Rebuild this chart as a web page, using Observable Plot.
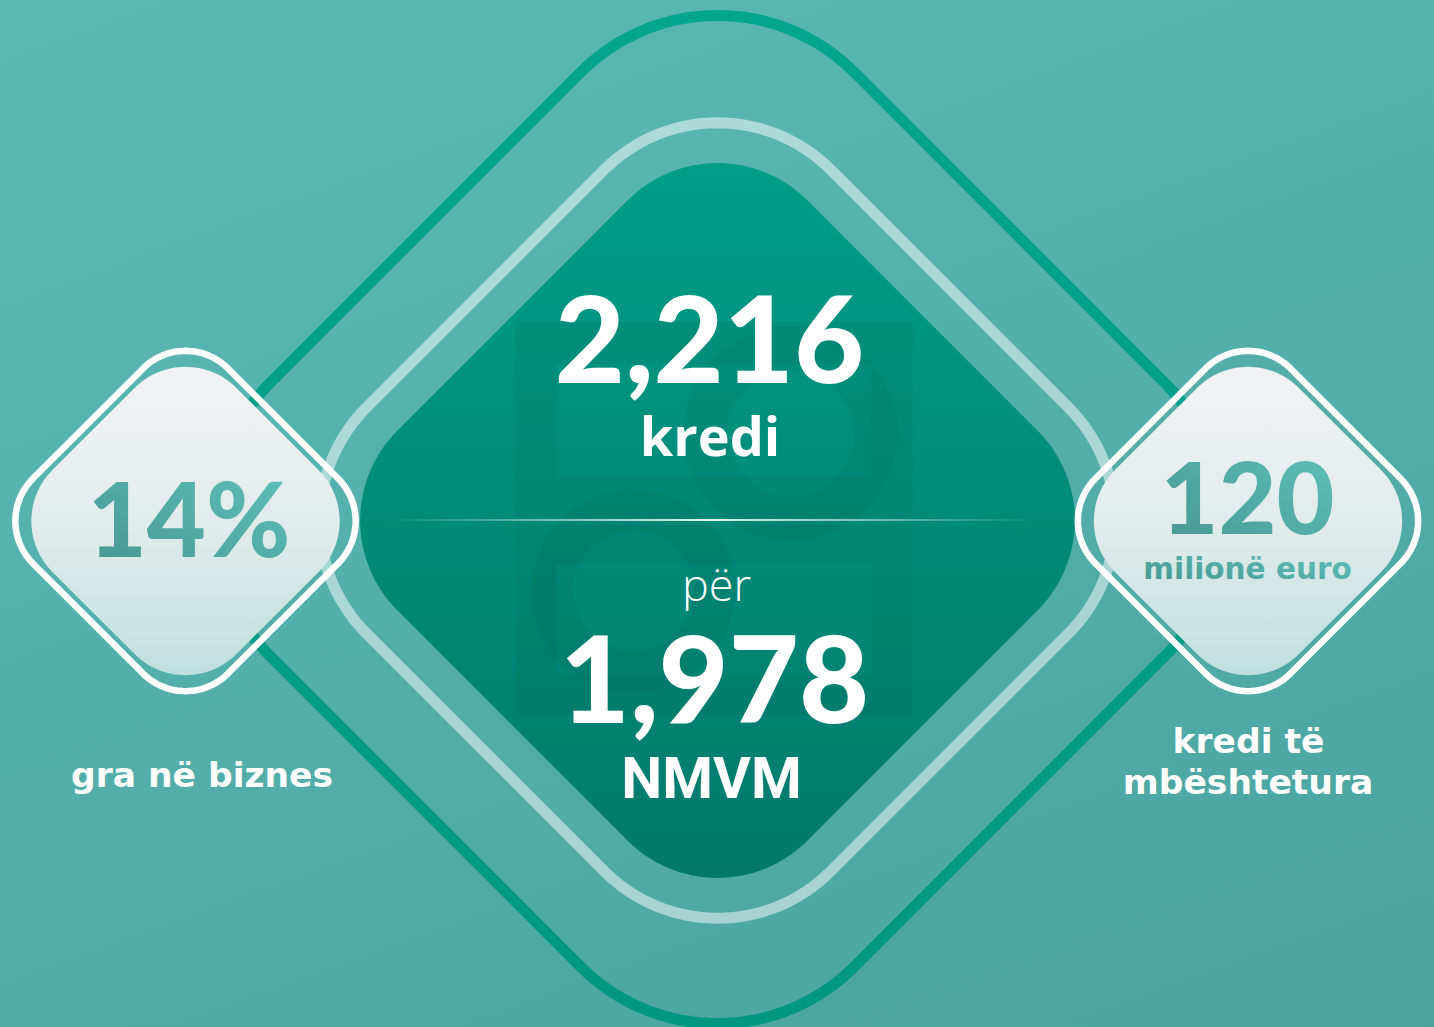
<!DOCTYPE html>
<html><head><meta charset="utf-8">
<script src="https://cdn.jsdelivr.net/npm/d3@7"></script>
<script src="https://cdn.jsdelivr.net/npm/@observablehq/plot@0.6"></script>
<style>
html,body{margin:0;padding:0;background:#52b0ab;overflow:hidden}
#chart svg{display:block}
</style></head><body><div id="chart"></div>
<script>
// ---- content ----
const headlineValues = ["2,216", "1,978"];
const headlineUnits = ["kredi", "NMVM"];
const connectorWord = ["për"];
const sideValues = ["14%", "120"];
const sideUnits = ["milionë euro"];
const sideCaptions = ["gra në biznes", "kredi të", "mbështetura"];

// ---- layout ----
const W = 1434, H = 1027;
const NUM = "Lato, sans-serif";
const WIDE = "'DejaVu Sans', Verdana, sans-serif";

function roundedDiamond(cx, cy, D, r, n = 32) {
  const pts = [];
  const k = D - r * Math.SQRT2;
  for (let q = 0; q < 4; q++) {
    const a0 = q * Math.PI / 2;
    const ax = cx + k * Math.cos(a0), ay = cy + k * Math.sin(a0);
    for (let i = 0; i <= n; i++) {
      const a = a0 - Math.PI / 4 + (i / n) * Math.PI / 2;
      pts.push({x: ax + r * Math.cos(a), y: ay + r * Math.sin(a)});
    }
  }
  return pts;
}

const outerRing = roundedDiamond(717, 519, 584, 193);
const middleRing = roundedDiamond(717, 520, 464, 160);
const innerFill = roundedDiamond(717, 520, 410, 127);
const leftRing = roundedDiamond(185, 520.5, 195, 60);
const leftFill = roundedDiamond(185, 520.5, 184, 72);
const rightRing = roundedDiamond(1247.5, 520.5, 195, 60);
const rightFill = roundedDiamond(1247.5, 520.5, 184, 72);

const closed = {x: "x", y: "y", curve: "linear-closed"};
const one = [0];
const at = (x, y) => ({x: () => x, y: () => y});

const svg = Plot.plot({
  width: W, height: H,
  margin: 0,
  x: {domain: [0, W], range: [0, W], axis: null},
  y: {domain: [0, H], range: [0, H], axis: null},
  style: {background: "linear-gradient(160deg, #5bbab5 0%, #53aeaa 55%, #49a29e 100%)", fontFamily: NUM},
  marks: [
    Plot.line(outerRing, {...closed, stroke: "url(#outerGrad)", strokeWidth: 11}),
    Plot.line(middleRing, {...closed, stroke: "#ffffff", strokeOpacity: 0.5, strokeWidth: 11}),
    Plot.line(innerFill, {...closed, fill: "url(#innerGrad)", stroke: "none"}),
    // faint watermark logo
    Plot.rect(one, {x1: () => 536, x2: () => 892, y1: () => 343, y2: () => 497, fill: "none", stroke: "#00463c", strokeOpacity: 0.07, strokeWidth: 42}),
    Plot.rect(one, {x1: () => 536, x2: () => 892, y1: () => 545, y2: () => 695, fill: "none", stroke: "#00463c", strokeOpacity: 0.07, strokeWidth: 40}),
    Plot.dot(one, {...at(790, 433), r: 85, fill: "none", stroke: "#00463c", strokeOpacity: 0.07, strokeWidth: 44}),
    Plot.dot(one, {...at(633, 590), r: 81, fill: "none", stroke: "#00463c", strokeOpacity: 0.07, strokeWidth: 42}),
    // divider
    Plot.rect(one, {x1: () => 385, x2: () => 1035, y1: () => 519, y2: () => 521, fill: "url(#lineGrad)"}),
    // side diamonds
    Plot.line(leftRing, {...closed, stroke: "#ffffff", strokeWidth: 6.5, fill: "none"}),
    Plot.line(leftFill, {...closed, fill: "url(#sideGrad)", stroke: "none"}),
    Plot.line(rightRing, {...closed, stroke: "#ffffff", strokeWidth: 6.5, fill: "none"}),
    Plot.line(rightFill, {...closed, fill: "url(#sideGrad)", stroke: "none"}),
    // central texts
    Plot.text([headlineValues[0]], {...at(709, 382), text: d => d, fontSize: 121, fontWeight: 900, fill: "white", lineAnchor: "bottom"}),
    Plot.text([headlineUnits[0]], {...at(709.5, 455), text: d => d, fontSize: 54, fontWeight: 700, fontFamily: "'Open Sans', sans-serif", fill: "white", lineAnchor: "bottom"}),
    Plot.text(connectorWord, {...at(716, 600), text: d => d, fontSize: 45, fontWeight: 300, fontFamily: "'Open Sans', sans-serif", fill: "white", lineAnchor: "bottom", ariaLabel: "connector"}),
    Plot.text([headlineValues[1]], {...at(714, 722), text: d => d, fontSize: 121, fontWeight: 900, fill: "white", lineAnchor: "bottom"}),
    Plot.text([headlineUnits[1]], {...at(711, 797), text: d => d, fontSize: 58, fontWeight: 700, fontFamily: "Roboto, sans-serif", fill: "white", lineAnchor: "bottom"}),
    // side texts
    Plot.text([sideValues[0]], {...at(188.5, 556), text: d => d, fontSize: 102, fontWeight: 900, fill: "url(#numGrad)", lineAnchor: "bottom"}),
    Plot.text([sideValues[1]], {...at(1247, 533), text: d => d, fontSize: 100, fontWeight: 900, fill: "url(#numGrad)", lineAnchor: "bottom"}),
    Plot.text(sideUnits, {...at(1247, 578), text: d => d, fontSize: 29.5, fontWeight: 700, fontFamily: WIDE, fill: "url(#numGrad)", lineAnchor: "bottom"}),
    Plot.text([sideCaptions[0]], {...at(201.5, 786), text: d => d, fontSize: 34.5, fontWeight: 700, fontFamily: WIDE, fill: "white", lineAnchor: "bottom"}),
    Plot.text([sideCaptions[1]], {...at(1248, 752), text: d => d, fontSize: 34.5, fontWeight: 700, fontFamily: WIDE, fill: "white", lineAnchor: "bottom"}),
    Plot.text([sideCaptions[2]], {...at(1247.5, 793), text: d => d, fontSize: 34.5, fontWeight: 700, fontFamily: WIDE, fill: "white", lineAnchor: "bottom"})
  ]
});

svg.insertAdjacentHTML("afterbegin", `
<defs>
  <linearGradient id="outerGrad" x1="0" y1="0" x2="0" y2="1">
    <stop offset="0" stop-color="#02a58e"/><stop offset="1" stop-color="#009782"/>
  </linearGradient>
  <linearGradient id="innerGrad" x1="0" y1="0" x2="0" y2="1">
    <stop offset="0" stop-color="#009d88"/><stop offset="1" stop-color="#00796b"/>
  </linearGradient>
  <linearGradient id="sideGrad" x1="0" y1="0" x2="0" y2="1">
    <stop offset="0" stop-color="#f2f2f4"/><stop offset="0.5" stop-color="#e2ecec"/><stop offset="1" stop-color="#bfe0de"/>
  </linearGradient>
  <linearGradient id="numGrad" x1="0" y1="1" x2="1" y2="0">
    <stop offset="0" stop-color="#46958f"/><stop offset="1" stop-color="#5fc3bc"/>
  </linearGradient>
  <linearGradient id="lineGrad" x1="0" y1="0" x2="1" y2="0">
    <stop offset="0" stop-color="#ffffff" stop-opacity="0"/>
    <stop offset="0.5" stop-color="#ffffff" stop-opacity="0.9"/>
    <stop offset="1" stop-color="#ffffff" stop-opacity="0"/>
  </linearGradient>
</defs>`);

svg.querySelectorAll('g[aria-label="connector"] text').forEach(t => t.style.letterSpacing = "5px");

document.getElementById("chart").appendChild(svg);
</script>
</body></html>
